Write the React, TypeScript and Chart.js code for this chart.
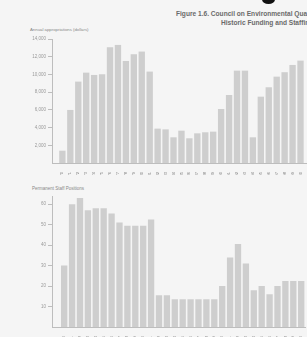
import React, { useEffect, useRef } from "react";
import { Chart, registerables } from "chart.js";
Chart.register(...registerables);

const years = [
  1970, 1971, 1972, 1973, 1974, 1975, 1976, 1977, 1978, 1979, 1980, 1981, 1982, 1983, 1984, 1985,
  1986, 1987, 1988, 1989, 1990, 1991, 1992, 1993, 1994, 1995, 1996, 1997, 1998, 1999, 2000,
];
const funding = [
  1390, 5990, 9190, 10200, 9940, 10020, 13070, 13330, 11520, 12280, 12580, 10320, 3880, 3800, 2900,
  3650, 2790, 3350, 3470, 3540, 6100, 7680, 10430, 10430, 2900, 7490, 8550, 9750, 10250, 11070, 11560,
];
const staff = [
  30, 60, 63, 57, 58, 58, 55.5, 51, 49.5, 49.5, 49.5, 52.5, 15.5, 15.5, 13.5, 13.5, 13.5, 13.5, 13.5,
  13.5, 20, 34, 40.5, 31, 18, 20, 16, 20, 22.5, 22.5, 22.5,
];
const fundingTicks = [2000, 4000, 6000, 8000, 10000, 12000, 14000];
const staffTicks = [10, 20, 30, 40, 50, 60];

const titleLine1 = "Figure 1.6. Council on Environmental Quality";
const titleLine2 = "Historic Funding and Staffing";
const fundingLabel = "Annual appropriations (dollars)";
const staffLabel = "Permanent Staff Positions";

type Cfg = {
  values: number[];
  ticks: number[];
  yMax: number;
  xMin: number;
  xMax: number;
  padTop: number;
  axisWidth: number;
  xAxisHeight: number;
  fmt: (v: number) => string;
};

function BarChart({ cfg, width, height }: { cfg: Cfg; width: number; height: number }) {
  const ref = useRef<HTMLCanvasElement>(null);
  useEffect(() => {
    if (!ref.current) return;
    const chart = new Chart(ref.current, {
      type: "bar",
      data: {
        datasets: [
          {
            data: years.map((y, i) => ({ x: y, y: cfg.values[i] })),
            backgroundColor: "#cecece",
            borderWidth: 0,
            barPercentage: 0.8,
            categoryPercentage: 1,
          },
        ],
      },
      options: {
        responsive: false,
        animation: false,
        plugins: { legend: { display: false }, tooltip: { enabled: false } },
        layout: { padding: { top: cfg.padTop, left: 0, right: 0, bottom: 0 } },
        scales: {
          x: {
            type: "linear",
            min: cfg.xMin,
            max: cfg.xMax,
            grid: { display: false },
            border: { display: true, color: "#bdbdbd" },
            ticks: {
              stepSize: 1,
              includeBounds: false,
              autoSkip: false,
              minRotation: 90,
              maxRotation: 90,
              padding: 1,
              color: "#7a7a7a",
              font: { size: 4, family: "Liberation Sans" },
              callback: (v: any) => (years.includes(Number(v)) ? String(v) : ""),
            },
            afterFit: (s: any) => {
              s.height = cfg.xAxisHeight;
            },
          },
          y: {
            min: 0,
            max: cfg.yMax,
            grid: { drawOnChartArea: false, tickLength: 4, color: "#bdbdbd" },
            border: { display: true, color: "#bdbdbd" },
            afterBuildTicks: (s: any) => {
              s.ticks = cfg.ticks.map((v) => ({ value: v }));
            },
            ticks: {
              padding: 2,
              color: "#9a9a9a",
              font: { size: 4.5, family: "Liberation Sans" },
              callback: (v: any) => cfg.fmt(Number(v)),
            },
            afterFit: (s: any) => {
              s.width = cfg.axisWidth;
            },
          },
        },
      },
    } as any);
    return () => chart.destroy();
  }, []);
  return <canvas ref={ref} width={width} height={height} style={{ display: "block" }} />;
}

export default function App() {
  const topCfg: Cfg = {
    values: funding,
    ticks: fundingTicks,
    yMax: 14000,
    xMin: 1969.21,
    xMax: 2000.3,
    padTop: 9,
    axisWidth: 52,
    xAxisHeight: 12,
    fmt: (v) => v.toLocaleString("en-US"),
  };
  const botCfg: Cfg = {
    values: staff,
    ticks: staffTicks,
    yMax: 64,
    xMin: 1968.96,
    xMax: 2000.06,
    padTop: 6,
    axisWidth: 52,
    xAxisHeight: 10,
    fmt: (v) => String(v),
  };
  return (
    <div
      style={{
        position: "fixed",
        left: 0,
        top: 0,
        width: 307,
        height: 337,
        overflow: "hidden",
        background: "#f5f5f5",
        fontFamily: "Liberation Sans, Arial, sans-serif",
      }}
    >
      <div
        style={{
          position: "absolute",
          left: 262,
          top: -5,
          width: 13,
          height: 9,
          borderRadius: "50%",
          background: "#111",
        }}
      />
      <div
        style={{
          position: "absolute",
          left: 176,
          top: 10,
          fontSize: 6.6,
          fontWeight: 600,
          color: "#6a6a6a",
          whiteSpace: "nowrap",
        }}
      >
        {titleLine1}
      </div>
      <div
        style={{
          position: "absolute",
          left: 221,
          top: 18.5,
          fontSize: 6.6,
          fontWeight: 600,
          color: "#6a6a6a",
          whiteSpace: "nowrap",
        }}
      >
        {titleLine2}
      </div>
      <div
        style={{
          position: "absolute",
          left: 30,
          top: 27,
          fontSize: 4.3,
          color: "#888",
          whiteSpace: "nowrap",
        }}
      >
        {fundingLabel}
      </div>
      <div style={{ position: "absolute", left: 0, top: 30 }}>
        <BarChart cfg={topCfg} width={307} height={145} />
      </div>
      <div
        style={{
          position: "absolute",
          left: 32,
          top: 186,
          fontSize: 4.5,
          color: "#888",
          whiteSpace: "nowrap",
        }}
      >
        {staffLabel}
      </div>
      <div style={{ position: "absolute", left: 0, top: 190 }}>
        <BarChart cfg={botCfg} width={307} height={147} />
      </div>
    </div>
  );
}
